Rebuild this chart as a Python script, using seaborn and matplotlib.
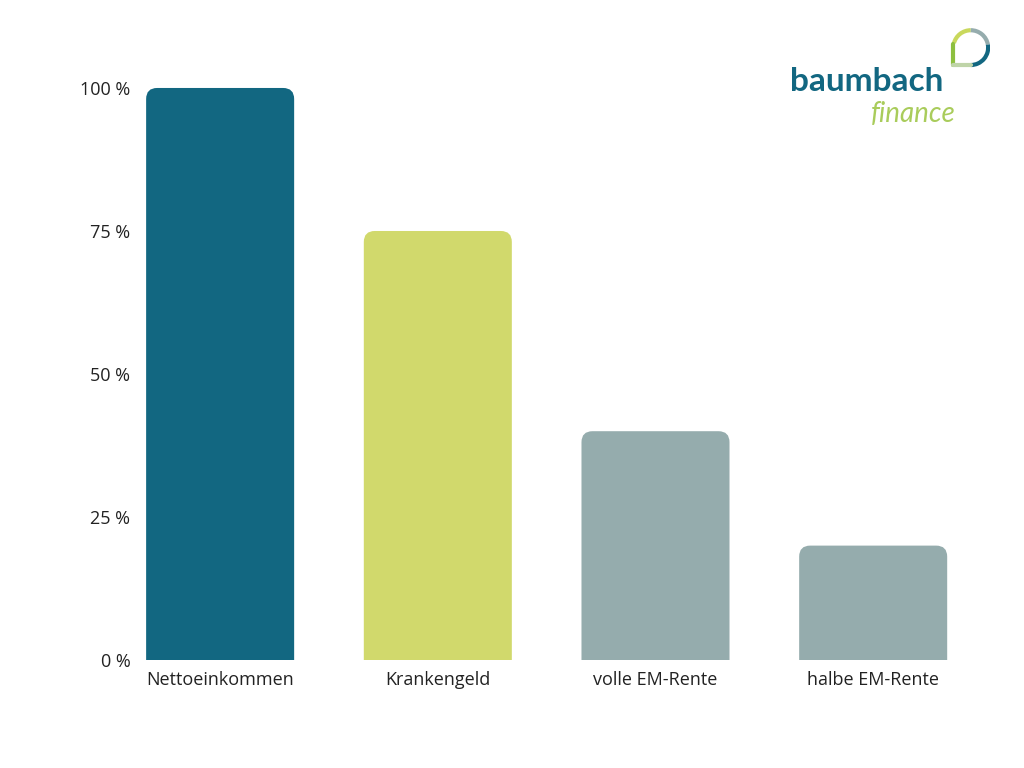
import pandas as pd
import numpy as np
import seaborn as sns
import matplotlib.pyplot as plt
from matplotlib.patches import FancyBboxPatch, Arc
from matplotlib.lines import Line2D

categories = ['Nettoeinkommen', 'Krankengeld', 'volle EM-Rente', 'halbe EM-Rente']
values = [100, 75, 40, 20]
colors = ['#126781', '#d1d96c', '#95acad', '#95acad']
yticks = [0, 25, 50, 75, 100]
ytick_labels = ['0 %', '25 %', '50 %', '75 %', '100 %']

sns.set_theme(style='white')
plt.rcParams['font.family'] = ['Open Sans', 'DejaVu Sans']

df = pd.DataFrame({'Kategorie': categories, 'Wert': values})

fig = plt.figure(figsize=(10.24, 7.68), dpi=100)
ax = fig.add_axes([0.1342, 0.1406, 0.8248, 0.7821])
sns.barplot(data=df, x='Kategorie', y='Wert', hue='Kategorie', palette=colors,
            width=0.68, legend=False, ax=ax, saturation=1)
ax.set_xlim(-0.38, 3.5)
ax.set_ylim(0, 105)
ax.set_yticks(yticks)
ax.set_yticklabels(ytick_labels)
ax.set_xlabel('')
ax.set_ylabel('')
sns.despine(ax=ax, left=True, bottom=True)
ax.tick_params(axis='y', length=0, pad=5, labelsize=13, labelcolor='#222222')
ax.tick_params(axis='x', length=0, pad=8, labelsize=13, labelcolor='#222222')

# rounded tops: replace each bar with a rounded box, bottom clipped by the axis
fig.canvas.draw()
bbox = ax.get_window_extent()
x_per_px = (ax.get_xlim()[1] - ax.get_xlim()[0]) / bbox.width
y_per_px = (ax.get_ylim()[1] - ax.get_ylim()[0]) / bbox.height
radius_px = 11
for bar in list(ax.patches):
    x, w, h = bar.get_x(), bar.get_width(), bar.get_height()
    c = bar.get_facecolor()
    bar.set_visible(False)
    extra = radius_px * y_per_px
    box = FancyBboxPatch((x, -extra), w, h + extra,
                         boxstyle=f'round,pad=0,rounding_size={radius_px * x_per_px}',
                         mutation_aspect=y_per_px / x_per_px,
                         facecolor=c, edgecolor='none', clip_on=True)
    ax.add_patch(box)

# logo
fig.text(0.771, 0.882, 'baumbach', fontsize=24, fontweight='bold', color='#126781',
         family=['Lato', 'DejaVu Sans'])
fig.text(0.850, 0.841, 'finance', fontsize=20, fontstyle='italic', fontweight='normal',
         color='#a9cc5b', family=['Lato', 'DejaVu Sans'])

lax = fig.add_axes([0.927, 0.910, 0.04, 0.0533])
lax.set_xlim(-1, 1)
lax.set_ylim(-1, 1)
lax.set_aspect('equal')
lax.axis('off')
lw = 3.0
lax.add_patch(Arc((0.05, 0.05), 1.7, 1.7, theta1=90, theta2=165, color='#c9d85c', lw=lw))
lax.add_patch(Arc((0.05, 0.05), 1.7, 1.7, theta1=10, theta2=90, color='#95acad', lw=lw))
lax.add_patch(Arc((0.05, 0.05), 1.7, 1.7, theta1=-90, theta2=10, color='#126781', lw=lw))
lax.add_line(Line2D([-0.8, -0.8], [-0.8, 0.25], color='#8dbf3f', lw=lw))
lax.add_line(Line2D([-0.8, 0.05], [-0.8, -0.8], color='#bfd4a8', lw=lw))

fig.savefig('out.png', dpi=100)
